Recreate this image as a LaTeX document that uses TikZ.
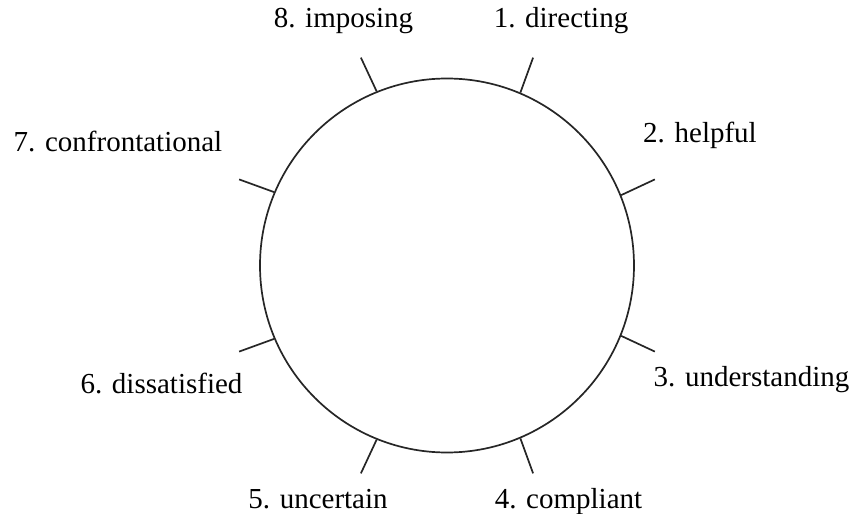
\documentclass[tikz,border=0pt]{standalone}
\usepackage{fontspec}
\setmainfont{Liberation Serif}
\begin{document}
\begin{tikzpicture}[x=1pt,y=1pt,
  lbl/.style={anchor=base,inner sep=0pt,font=\fontsize{29}{34}\selectfont},
  ring/.style={draw=black!85,line width=1.7pt,circle,minimum size=374pt,inner sep=0pt},
  tick/.style={draw=black!85,line width=1.7pt}]
\useasboundingbox (-447,265.5) rectangle (407,-248.5);
\node[ring] (c) at (0,0) {};
\foreach \a/\n in {67.5/1,22.5/2,-22.5/3,-67.5/4,-112.5/5,-157.5/6,157.5/7,112.5/8}{
  \coordinate (t\n) at (\a:225);
  \draw[tick] (c.\a) -- (t\n);
}
\node[lbl] (l8) at (-103.5,237.5) {8. imposing};
\node[lbl] (l1) at (114,237.5) {1. directing};
\node[lbl] (l2) at (253,123.2) {2. helpful};
\node[lbl] (l7) at (-329,113.8) {7. confrontational};
\node[lbl] (l6) at (-285.5,-127.8) {6. dissatisfied};
\node[lbl] (l3) at (304.5,-121.2) {3. understanding};
\node[lbl] (l5) at (-129,-242.8) {5. uncertain};
\node[lbl] (l4) at (121.5,-242.5) {4. compliant};
\end{tikzpicture}
\end{document}
